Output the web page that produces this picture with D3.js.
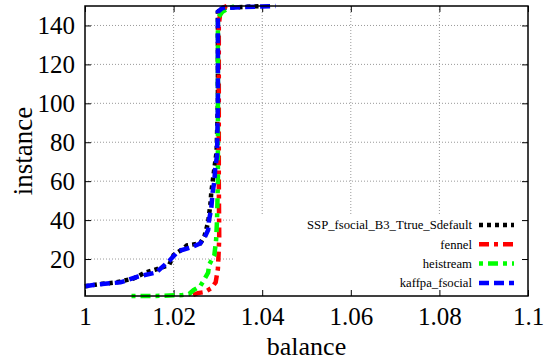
<!DOCTYPE html>
<html>
<head>
<meta charset="utf-8">
<script src="https://cdn.jsdelivr.net/npm/d3@7"></script>
<style>
  body { margin: 0; background: #fff; }
</style>
</head>
<body>
<div id="chart"></div>
<script>
// tick values and labels
const xTicks = [1, 1.02, 1.04, 1.06, 1.08, 1.1];
const xTickLabels = ["1", "1.02", "1.04", "1.06", "1.08", "1.1"];
const yTicks = [20, 40, 60, 80, 100, 120, 140];
const yTickLabels = ["20", "40", "60", "80", "100", "120", "140"];

// series: points (instance, balance)
const seriesNames = ["SSP_fsocial_B3_Ttrue_Sdefault", "fennel", "heistream", "kaffpa_fsocial"];

const sspInstance = [6, 7, 8, 10, 13, 15, 17, 22, 25, 27, 28, 32, 39, 48, 54, 63, 75, 100, 147, 149, 150];
const sspBalance  = [1.000, 1.003, 1.007, 1.011, 1.0135, 1.0165, 1.019, 1.020, 1.022, 1.023, 1.026, 1.027, 1.0278, 1.0283, 1.0285, 1.029, 1.0297, 1.030, 1.030, 1.031, 1.040];

const fennelInstance = [1.5, 2.5, 3, 5, 8, 15, 25, 31, 60, 140, 146, 149, 150];
const fennelBalance  = [1.0244, 1.0255, 1.027, 1.0285, 1.0295, 1.030, 1.0302, 1.0303, 1.0302, 1.0302, 1.0305, 1.031, 1.032];

const heiInstance = [1, 1, 1.5, 2, 4, 6, 9, 13, 17, 22, 30, 40, 60, 144, 147, 149, 150];
const heiBalance  = [1.0105, 1.016, 1.022, 1.0235, 1.0245, 1.026, 1.0268, 1.0278, 1.028, 1.0292, 1.0296, 1.0298, 1.030, 1.030, 1.031, 1.0325, 1.034];

const kaffpaInstance = [6, 7, 8, 11, 13, 19, 24, 26, 28, 31, 35, 40, 46, 54, 60, 67, 73, 100, 147, 149, 150];
const kaffpaBalance  = [1.000, 1.003, 1.008, 1.012, 1.016, 1.019, 1.021, 1.024, 1.026, 1.027, 1.0278, 1.028, 1.0285, 1.0288, 1.0292, 1.0294, 1.0298, 1.030, 1.030, 1.031, 1.043];

const serif = "Liberation Serif";
const width = 551, height = 363;
const margin = { top: 6, right: 23, bottom: 67, left: 85 };
const w = width - margin.left - margin.right;
const h = height - margin.top - margin.bottom;

const svg = d3.select("#chart").append("svg")
  .attr("width", width)
  .attr("height", height)
  .attr("font-family", serif);

const g = svg.append("g")
  .attr("transform", `translate(${margin.left}, ${margin.top})`);

const x = d3.scaleLinear().domain([1, 1.1]).range([0, w]);
const y = d3.scaleLinear().domain([1, 150]).range([h, 0]);

// grid
g.append("g").selectAll("line")
  .data(xTicks.slice(1, -1)).join("line")
  .attr("x1", d => x(d)).attr("x2", d => x(d))
  .attr("y1", 0).attr("y2", h)
  .attr("stroke", "#999").attr("stroke-width", 1).attr("stroke-dasharray", "1,2");
g.append("g").selectAll("line")
  .data(yTicks).join("line")
  .attr("x1", 0).attr("x2", w)
  .attr("y1", d => y(d)).attr("y2", d => y(d))
  .attr("stroke", "#999").attr("stroke-width", 1).attr("stroke-dasharray", "1,2");

// opaque key area
const keyLeft = 150, keyTop = 209;
g.append("rect")
  .attr("x", keyLeft).attr("y", keyTop)
  .attr("width", w - keyLeft - 1).attr("height", h - keyTop - 1)
  .attr("fill", "#fff");

// axes (ticks pointing inward)
const xAxis = g.append("g")
  .attr("transform", `translate(0, ${h})`)
  .call(d3.axisBottom(x).tickValues(xTicks).tickSize(-6).tickPadding(11)
    .tickFormat((d, i) => xTickLabels[i]));
const yAxis = g.append("g")
  .call(d3.axisLeft(y).tickValues(yTicks).tickSize(-6).tickPadding(10)
    .tickFormat((d, i) => yTickLabels[i]));
g.append("g").call(d3.axisTop(x).tickValues(xTicks).tickSize(-6).tickFormat(""));
g.append("g").attr("transform", `translate(${w}, 0)`)
  .call(d3.axisRight(y).tickValues(yTicks).tickSize(-6).tickFormat(""));

g.selectAll(".domain").remove();
g.selectAll(".tick line").attr("stroke", "#000").attr("stroke-width", 1);
[xAxis, yAxis].forEach(a => {
  a.attr("font-family", serif).attr("font-size", 25);
  a.selectAll("text").attr("fill", "#000");
});

// curves
const styles = [
  { color: "#000000", dash: "4,4" },
  { color: "#ff0000", dash: "10,5,4,5" },
  { color: "#00ff00", dash: "4,5,10,5" },
  { color: "#0000ff", dash: "10,5" }
];
const series = [
  sspInstance.map((v, i) => ({ inst: v, bal: sspBalance[i] })),
  fennelInstance.map((v, i) => ({ inst: v, bal: fennelBalance[i] })),
  heiInstance.map((v, i) => ({ inst: v, bal: heiBalance[i] })),
  kaffpaInstance.map((v, i) => ({ inst: v, bal: kaffpaBalance[i] }))
];

const line = d3.line()
  .x(d => x(d.bal))
  .y(d => y(d.inst));

series.forEach((s, i) => {
  g.append("path")
    .datum(s)
    .attr("fill", "none")
    .attr("stroke", styles[i].color)
    .attr("stroke-width", 4.5)
    .attr("stroke-dasharray", styles[i].dash)
    .attr("d", line);
});

// border
g.append("rect")
  .attr("width", w).attr("height", h)
  .attr("fill", "none").attr("stroke", "#000").attr("stroke-width", 1.5);

// legend
const legend = g.append("g").attr("font-family", serif);
seriesNames.forEach((name, i) => {
  const ly = 219 + i * 19.3;
  legend.append("text")
    .attr("x", 387).attr("y", ly)
    .attr("dy", "0.35em")
    .attr("text-anchor", "end")
    .attr("font-size", 12.7)
    .text(name);
  legend.append("line")
    .attr("x1", 394).attr("x2", 429)
    .attr("y1", ly).attr("y2", ly)
    .attr("stroke", styles[i].color)
    .attr("stroke-width", 4.5)
    .attr("stroke-dasharray", styles[i].dash);
});

// axis titles
svg.append("text")
  .attr("x", margin.left + w / 2).attr("y", 355)
  .attr("text-anchor", "middle")
  .attr("font-size", 26)
  .text("balance");
svg.append("text")
  .attr("transform", `translate(32, ${margin.top + h / 2}) rotate(-90)`)
  .attr("text-anchor", "middle")
  .attr("font-size", 27)
  .text("instance");
</script>
</body>
</html>
